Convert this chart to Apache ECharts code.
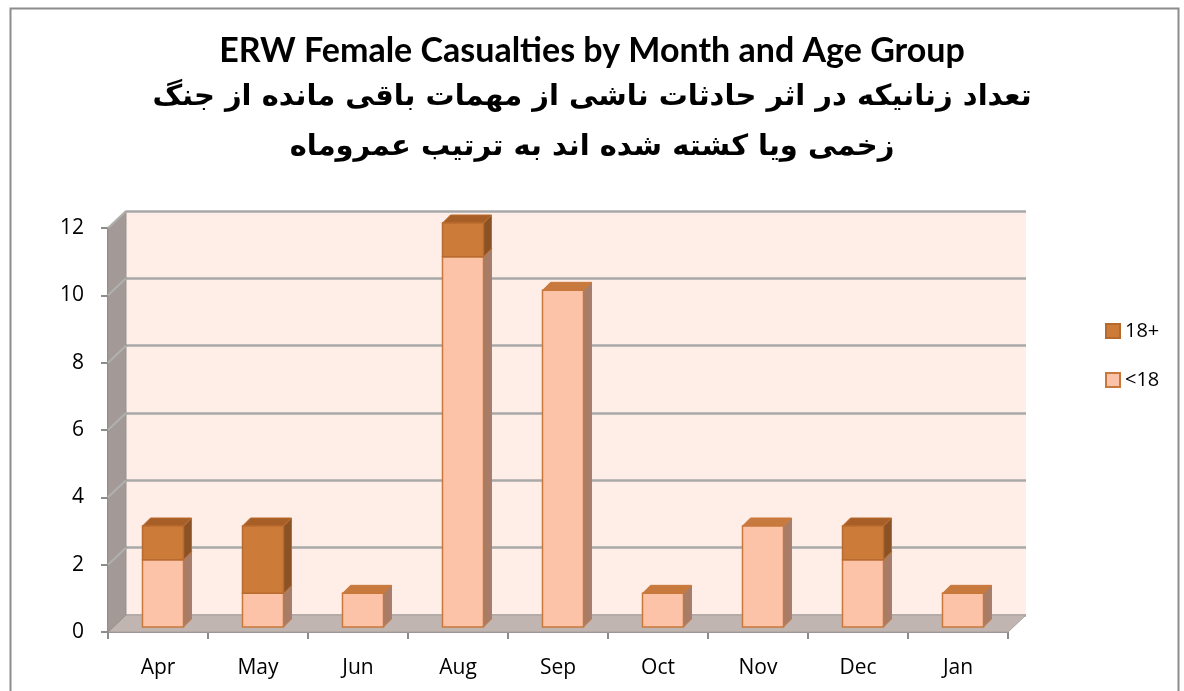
<!DOCTYPE html>
<html>
<head>
<meta charset="utf-8">
<script src="https://cdn.jsdelivr.net/npm/echarts@6/dist/echarts.min.js"></script>
<style>
  html, body { margin: 0; padding: 0; background: #fff; }
  #chart { width: 1184px; height: 691px; }
</style>
</head>
<body>
<div id="chart"></div>
<script>
var months = ["Apr", "May", "Jun", "Aug", "Sep", "Oct", "Nov", "Dec", "Jan"];
var under18 = [2, 1, 1, 11, 10, 1, 3, 2, 1];
var adults = [1, 2, 0, 1, 0, 0, 0, 1, 0];
var yMax = 12;
var yStep = 2;

// depth of the "3d" box and of the bars
var DX = 18, DY = 17;
var BD = 8;

var lightData = under18.map(function (v, i) { return [i, 0, v]; });
var darkData = adults.map(function (v, i) { return [i, under18[i], under18[i] + v]; });

function bar3d(colors) {
  return function (params, api) {
    var i = api.value(0), lo = api.value(1), hi = api.value(2);
    if (hi <= lo) return;
    var band = api.size([1, 0])[0];
    var w = band * 0.41;
    var pt = api.coord([i, hi]);
    var pb = api.coord([i, lo]);
    var x = pt[0] - w / 2 + 5;
    var yt = pt[1] - 5, yb = pb[1] - 5;
    return {
      type: "group",
      children: [
        {
          type: "polygon",
          shape: { points: [[x + w, yt], [x + w + BD, yt - BD], [x + w + BD, yb - BD], [x + w, yb]] },
          style: { fill: colors.side, stroke: colors.edge, lineWidth: 1 }
        },
        {
          type: "polygon",
          shape: { points: [[x, yt], [x + BD, yt - BD], [x + w + BD, yt - BD], [x + w, yt]] },
          style: { fill: colors.top, stroke: colors.edge, lineWidth: 1 }
        },
        {
          type: "rect",
          shape: { x: x, y: yt, width: w, height: yb - yt },
          style: { fill: colors.front, stroke: colors.edge, lineWidth: 1.5 }
        }
      ]
    };
  };
}

function walls(params, api) {
  var cs = params.coordSys;
  var x0 = cs.x, x1 = cs.x + cs.width;
  var y0 = cs.y, y1 = cs.y + cs.height;
  var kids = [
    {
      type: "polygon",
      shape: { points: [[x0, y1], [x1, y1], [x1 + DX, y1 - DY], [x0 + DX, y1 - DY]] },
      style: { fill: "#c0b5b1", stroke: "#a9a09d", lineWidth: 1 }
    },
    {
      type: "polygon",
      shape: { points: [[x0, y1], [x0, y0], [x0 + DX, y0 - DY], [x0 + DX, y1 - DY]] },
      style: { fill: "#a39a97", stroke: "#9a918e", lineWidth: 1 }
    }
  ];
  for (var v = yStep; v <= yMax; v += yStep) {
    var y = api.coord([0, v])[1];
    kids.push({
      type: "line",
      shape: { x1: x0, y1: y, x2: x0 + DX, y2: y - DY },
      style: { stroke: "#b0b0b0", lineWidth: 2 }
    });
  }
  return { type: "group", children: kids };
}

var chart = echarts.init(document.getElementById("chart"));
chart.setOption({
  backgroundColor: "#ffffff",
  animation: false,
  graphic: [
    {
      type: "rect",
      left: 8, top: 6,
      shape: { width: 1168, height: 700 },
      style: { fill: "none", stroke: "#8c8c8c", lineWidth: 2 },
      z: 0
    }
  ],
  title: [
    {
      text: "ERW Female Casualties by Month and Age Group",
      left: "center", top: 29,
      textStyle: { fontFamily: "Lato", fontWeight: "bold", fontSize: 34, color: "#000" }
    },
    {
      text: "تعداد زنانیکه در اثر حادثات ناشی از مهمات باقی مانده از جنگ",
      left: "center", top: 78,
      textStyle: { fontFamily: "DejaVu Sans", fontWeight: "bold", fontSize: 29, color: "#000" }
    },
    {
      text: "زخمی ویا کشته شده اند به ترتیب عمروماه",
      left: "center", top: 128,
      textStyle: { fontFamily: "DejaVu Sans", fontWeight: "bold", fontSize: 29, color: "#000" }
    }
  ],
  legend: {
    data: ["18+", "<18"],
    orient: "vertical",
    left: 1100, top: 316,
    itemGap: 29,
    itemWidth: 14, itemHeight: 14,
    icon: "rect",
    textStyle: { fontFamily: "Open Sans", fontSize: 20, color: "#000" }
  },
  grid: [
    { left: 108, right: 176, top: 228, bottom: 59 },
    {
      left: 108 + DX, right: 176 - DX, top: 228 - DY, bottom: 59 + DY,
      show: true, backgroundColor: "#feeee7", borderWidth: 0
    }
  ],
  xAxis: [
    {
      type: "category", data: months, gridIndex: 0,
      axisLine: { lineStyle: { color: "#8c8c8c", width: 2 } },
      axisTick: { show: true, length: 7, lineStyle: { color: "#8c8c8c", width: 2 } },
      axisLabel: { margin: 26, fontFamily: "Open Sans", fontSize: 21, color: "#000" }
    },
    {
      type: "category", data: months, gridIndex: 1, show: false
    }
  ],
  yAxis: [
    {
      type: "value", gridIndex: 0, min: 0, max: yMax, interval: yStep,
      axisLine: { show: true, lineStyle: { color: "#8c8c8c", width: 2 } },
      axisTick: { show: true, length: 7, lineStyle: { color: "#8c8c8c", width: 2 } },
      splitLine: { show: false },
      axisLabel: { margin: 24, fontFamily: "Open Sans", fontSize: 21, color: "#000" }
    },
    {
      type: "value", gridIndex: 1, min: 0, max: yMax, interval: yStep,
      axisLine: { show: false }, axisTick: { show: false }, axisLabel: { show: false },
      splitLine: { show: true, lineStyle: { color: "#a8a8a8", width: 2.5 } }
    }
  ],
  series: [
    {
      type: "custom", name: "walls", xAxisIndex: 0, yAxisIndex: 0,
      data: [[0]], renderItem: walls, silent: true, z: 1
    },
    {
      type: "custom", name: "<18", xAxisIndex: 0, yAxisIndex: 0,
      data: lightData, z: 3,
      itemStyle: { color: "#fcc3a8", borderColor: "#c9783b", borderWidth: 1.5 },
      renderItem: bar3d({ front: "#fcc3a8", top: "#c87a3e", side: "#a77d6a", edge: "#c9783b" })
    },
    {
      type: "custom", name: "18+", xAxisIndex: 0, yAxisIndex: 0,
      data: darkData, z: 3,
      itemStyle: { color: "#cd7b38", borderColor: "#b5692c", borderWidth: 1.5 },
      renderItem: bar3d({ front: "#cd7b38", top: "#a85f27", side: "#8b5226", edge: "#b86b2e" })
    }
  ]
});
window.addEventListener("resize", function () {
  chart.resize();
});
</script>
</body>
</html>
